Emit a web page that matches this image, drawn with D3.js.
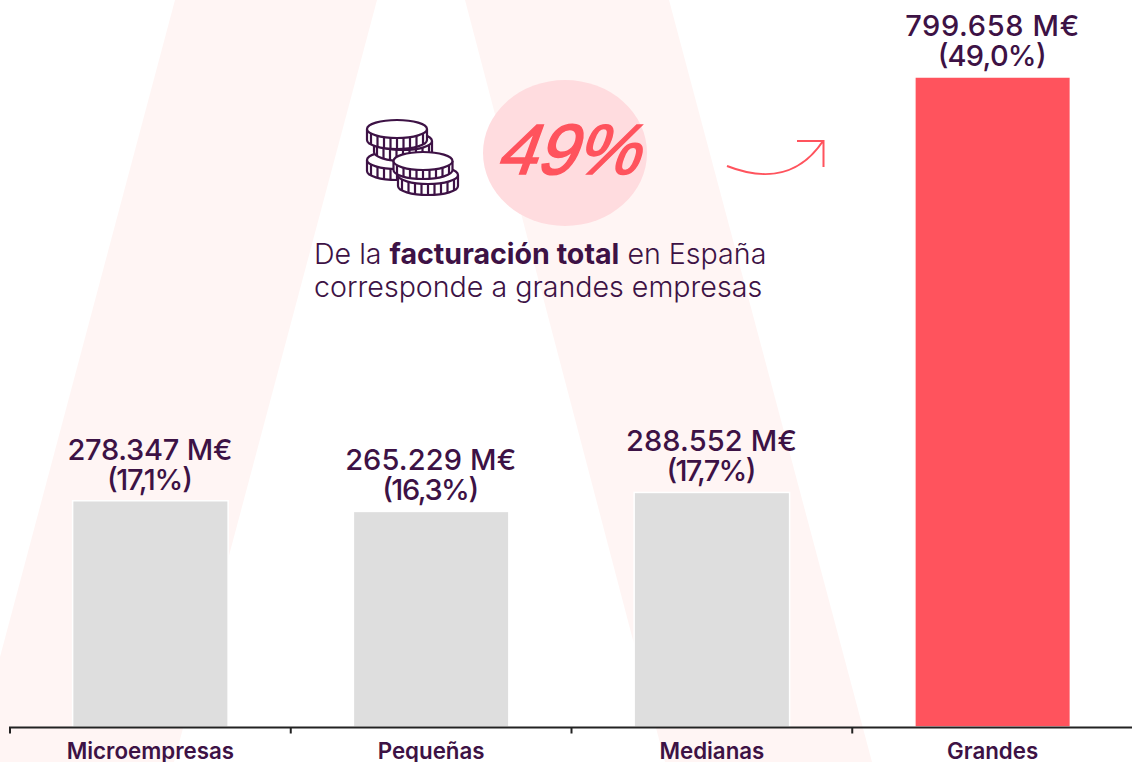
<!DOCTYPE html>
<html><head><meta charset="utf-8">
<script src="https://cdnjs.cloudflare.com/ajax/libs/d3/7.8.5/d3.min.js"></script>
<style>html,body{margin:0;padding:0;background:#fff;overflow:hidden}svg{display:block}</style>
</head><body><svg id="c" width="1132" height="762"></svg>
<script>
const categories=["Microempresas","Pequeñas","Medianas","Grandes"];
const values=[278347,265229,288552,799658];
const valueLabels=["278.347 M€","265.229 M€","288.552 M€","799.658 M€"];
const shareLabels=["(17,1%)","(16,3%)","(17,7%)","(49,0%)"];
const barColors=["#dedede","#dedede","#dedede","#ff535d"];
const ink="#3d1245";
const svg=d3.select("#c");
const xs=d3.scaleLinear().domain([0,4]).range([10,1133]);
const y=d3.scaleLinear().domain([0,799658]).range([727,77]);
const sans="Inter, 'Liberation Sans', sans-serif";
// background
const bg=svg.append("g").attr("fill","#fff5f4");
[[[175,0],[377,0],[174,762],[-28,762]],[[465,0],[669,0],[872,762],[665,762]]].forEach(p=>bg.append("polygon").attr("points",p.join(" ")));
// bars
const bw=155.5;
svg.selectAll("rect.b").data(values).join("rect").attr("class","b")
 .attr("x",(d,i)=>xs(i+0.5)-bw/2).attr("width",bw).attr("y",d=>y(d)).attr("height",d=>y(0)-y(d))
 .attr("fill",(d,i)=>barColors[i]).attr("stroke","#fff").attr("stroke-width",1.5);
// labels
const valueWidths=[165,171,171,174], shareWidths=[86,97,90,109];
const lab=svg.append("g").attr("font-family",sans).attr("fill",ink).attr("text-anchor","middle").attr("font-size",29).attr("font-weight",450);
values.forEach((v,i)=>{
 lab.append("text").attr("x",xs(i+0.5)-.5).attr("y",y(v)-41).attr("textLength",valueWidths[i]).attr("lengthAdjust","spacing").text(valueLabels[i]);
 lab.append("text").attr("x",xs(i+0.5)-.5).attr("y",y(v)-11).attr("textLength",shareWidths[i]).attr("lengthAdjust","spacing").text(shareLabels[i]);
});
// axis
const ax=svg.append("g").attr("transform","translate(0,727.5)");
ax.append("path").attr("d",`M${xs(0)},6V0H${xs(4)}`).attr("fill","none").attr("stroke","#222").attr("stroke-width",2);
[1,2,3].forEach(i=>ax.append("line").attr("x1",xs(i)).attr("x2",xs(i)).attr("y1",0).attr("y2",6).attr("stroke","#222").attr("stroke-width",2));
categories.forEach((c,i)=>svg.append("text").attr("x",xs(i+0.5)).attr("y",758.5).attr("text-anchor","middle").attr("font-family",sans).attr("font-weight",600).attr("font-size",22.3).attr("fill",ink).text(c));
// callout
svg.append("ellipse").attr("cx",565).attr("cy",153).attr("rx",82).attr("ry",73).attr("fill","#ffdcdf");
svg.append("text").attr("transform","translate(566,174) skewX(-20)").attr("text-anchor","middle").attr("font-family","'Liberation Sans', sans-serif").attr("font-size",71).attr("font-weight",400).attr("fill","#ff535d").attr("stroke","#ff535d").attr("stroke-width",1.6).text("49%");
const t=svg.append("g").attr("font-family",sans).attr("font-size",28.6).attr("font-weight",300).attr("fill",ink);
const t1=t.append("text").attr("x",314).attr("y",264);
t1.append("tspan").text("De la ");
t1.append("tspan").attr("font-weight",700).text("facturación total");
t1.append("tspan").text(" en España");
t.append("text").attr("x",314).attr("y",297).text("corresponde a grandes empresas");
// arrow
svg.append("path").attr("d","M727,166C755,177 795,183 823,141M797,141H823.5V167").attr("fill","none").attr("stroke","#ff535d").attr("stroke-width",2);
// coins
const coins=svg.append("g").attr("fill","#fff").attr("stroke",ink).attr("stroke-width",2.2);
function coin(cx,cy,rx,ry,h){
 const g=coins.append("g");
 g.append("path").attr("d",`M${cx-rx},${cy}V${cy+h}A${rx},${ry} 0 0 0 ${cx+rx},${cy+h}V${cy}`);
 d3.range(-4,5).forEach(k=>{const px=cx+k*6.5;const py=cy+ry*Math.sqrt(1-(k*6.5/rx)**2);
  g.append("line").attr("x1",px).attr("x2",px).attr("y1",py).attr("y2",py+h);});
 g.append("ellipse").attr("cx",cx).attr("cy",cy).attr("rx",rx).attr("ry",ry);
}
coin(397,160,30,9,11);
coin(403,141,29,9,11);
coin(397,129,30,9,11);
coin(428,175,30,9,11);
coin(423,161,29.5,9,9);
</script></body></html>
